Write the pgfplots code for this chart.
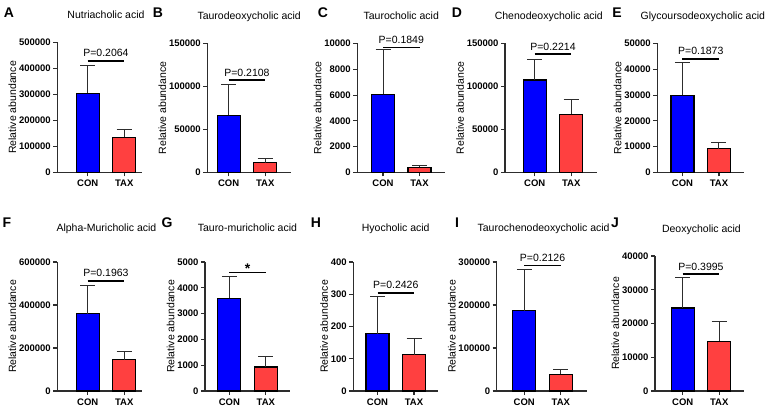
\documentclass[border=0pt]{standalone}
\usepackage{pgfplots}
\pgfplotsset{compat=1.18}
\usepackage{fontspec}
\setmainfont{Liberation Sans}
\definecolor{conblue}{RGB}{0,0,255}
\definecolor{taxred}{RGB}{255,64,64}
\definecolor{axgray}{RGB}{45,45,45}

\pgfplotsset{
  panel/.style={
    scale only axis, x=36.5pt, height=129pt,
    axis x line=bottom, axis y line=left,
    axis line style={-, line width=1.1pt, axgray},
    tick style={line width=1.1pt, axgray},
    tick align=outside, major tick length=4pt,
    xtick={1,2}, xticklabels={CON,TAX},
    ymin=0, clip=false,
    scaled y ticks=false,
    /pgf/number format/fixed,
    /pgf/number format/1000 sep={},
    /pgf/number format/assume math mode=true,
    yticklabel style={font=\bfseries\fontsize{9.5}{10}\selectfont, xshift=1pt},
    xticklabel style={font=\bfseries\fontsize{9.5}{11}\selectfont},
    ylabel={Relative abundance},
    ylabel style={font=\fontsize{10.5}{12}\selectfont, yshift=-4pt},
    title style={font=\fontsize{10.5}{12}\selectfont, at={(0.5,1)}, anchor=base},
    ybar, bar width=23pt,
  },
  grp/.style={draw=black, line width=1.1pt, bar shift=0pt,
    error bars/y dir=plus, error bars/y explicit,
    error bars/error bar style={line width=1pt, axgray},
    error bars/error mark options={rotate=90, mark size=7.5pt, line width=1pt, axgray}},
  con/.style={grp, fill=conblue},
  tax/.style={grp, fill=taxred},
}
\newcommand{\pval}[2]{%
  \draw[line width=1.5pt] (axis cs:1,#1) -- (axis cs:2,#1);
  \node[anchor=base, yshift=4pt, font=\fontsize{10.5}{12}\selectfont] at (axis cs:1.5,#1) {#2};}

\begin{document}
\begin{tikzpicture}
\useasboundingbox (0pt,0pt) rectangle (767pt,409pt);
\tikzset{letter/.style={font=\bfseries\fontsize{14}{15}\selectfont}}
\node[letter] at (9pt,396pt) {A};
\node[letter] at (158pt,396pt) {B};
\node[letter] at (323pt,396pt) {C};
\node[letter] at (457pt,396pt) {D};
\node[letter] at (617pt,396pt) {E};
\node[letter] at (7pt,186pt) {F};
\node[letter] at (167pt,186pt) {G};
\node[letter] at (316pt,186pt) {H};
\node[letter] at (457pt,186pt) {I};
\node[letter] at (615pt,186pt) {J};

% A
\begin{axis}[panel, at={(57.3pt,236.5pt)}, anchor=south west, height=130pt,
  xmin=0.167, xmax=2.477, ymax=500000, ytick={0,100000,...,500000},
  title={Nutriacholic acid}, title style={yshift=18pt, xshift=6.5pt}]
\addplot[con] coordinates {(1,305000) +- (0,105000)};
\addplot[tax] coordinates {(2,135000) +- (0,30000)};
\pval{429000}{P=0.2064}
\end{axis}
% B
\begin{axis}[panel, at={(207.3pt,236.5pt)}, anchor=south west,
  xmin=0.414, xmax=2.71, ymax=150000, ytick={0,50000,100000,150000},
  title={Taurodeoxycholic acid}, title style={yshift=18pt}]
\addplot[con] coordinates {(1,66300) +- (0,35500)};
\addplot[tax] coordinates {(2,11600) +- (0,4600)};
\pval{107500}{P=0.2108}
\end{axis}
% C
\begin{axis}[panel, at={(357.3pt,236.5pt)}, anchor=south west,
  xmin=0.296, xmax=2.704, ymax=10000, ytick={0,2000,...,10000},
  title={Taurocholic acid}, title style={yshift=18pt}]
\addplot[con] coordinates {(1,6050) +- (0,3450)};
\addplot[tax] coordinates {(2,390) +- (0,175)};
\pval{9690}{P=0.1849}
\end{axis}
% D
\begin{axis}[panel, at={(505pt,236.5pt)}, anchor=south west,
  xmin=0.186, xmax=2.696, ymax=150000, ytick={0,50000,100000,150000},
  title={Chenodeoxycholic acid}, title style={yshift=18pt, xshift=-2pt}]
\addplot[con] coordinates {(1,107500) +- (0,24300)};
\addplot[tax] coordinates {(2,67900) +- (0,16500)};
\pval{137600}{P=0.2214}
\end{axis}
% E
\begin{axis}[panel, at={(657.3pt,236.5pt)}, anchor=south west,
  xmin=0.31, xmax=2.693, ymax=50000, ytick={0,10000,...,50000},
  title={Glycoursodeoxycholic acid}, title style={yshift=18pt, xshift=2pt}]
\addplot[con] coordinates {(1,30000) +- (0,12600)};
\addplot[tax] coordinates {(2,9300) +- (0,2500)};
\pval{44000}{P=0.1873}
\end{axis}
% F
\begin{axis}[panel, at={(57.3pt,18pt)}, anchor=south west,
  xmin=0.167, xmax=2.477, ymax=600000, ytick={0,200000,400000,600000},
  title={Alpha-Muricholic acid}, title style={yshift=24.5pt, xshift=7pt}]
\addplot[con] coordinates {(1,359000) +- (0,130000)};
\addplot[tax] coordinates {(2,145000) +- (0,37000)};
\pval{512000}{P=0.1963}
\end{axis}
% G
\begin{axis}[panel, at={(205pt,18pt)}, anchor=south west,
  xmin=0.334, xmax=2.658, ymax=5000, ytick={0,1000,...,5000},
  title={Tauro-muricholic acid}, title style={yshift=24.5pt}]
\addplot[con] coordinates {(1,3600) +- (0,840)};
\addplot[tax] coordinates {(2,930) +- (0,410)};
\draw[line width=1.5pt] (axis cs:1,4600) -- (axis cs:2,4600);
\node[anchor=base, yshift=-1pt, font=\bfseries\fontsize{14}{15}\selectfont] at (axis cs:1.5,4600) {*};
\end{axis}
% H
\begin{axis}[panel, at={(353.3pt,18pt)}, anchor=south west,
  xmin=0.337, xmax=2.66, ymax=400, ytick={0,100,...,400},
  title={Hyocholic acid}, title style={yshift=24.5pt}]
\addplot[con] coordinates {(1,178) +- (0,114)};
\addplot[tax] coordinates {(2,113) +- (0,50)};
\pval{304}{P=0.2426}
\end{axis}
% I
\begin{axis}[panel, at={(496.7pt,18pt)}, anchor=south west,
  xmin=0.244, xmax=2.704, ymax=300000, ytick={0,100000,200000,300000},
  title={Taurochenodeoxycholic acid}, title style={yshift=24.5pt, xshift=2pt}]
\addplot[con] coordinates {(1,187000) +- (0,96000)};
\addplot[tax] coordinates {(2,38500) +- (0,11000)};
\pval{291600}{P=0.2126}
\end{axis}
% J
\begin{axis}[panel, at={(655pt,18pt)}, anchor=south west, height=135pt,
  xmin=0.241, xmax=2.677, ymax=40000, ytick={0,10000,...,40000},
  title={Deoxycholic acid}, title style={yshift=18pt, xshift=2pt}]
\addplot[con] coordinates {(1,24600) +- (0,8900)};
\addplot[tax] coordinates {(2,14800) +- (0,5700)};
\pval{34600}{P=0.3995}
\end{axis}
\end{tikzpicture}
\end{document}
